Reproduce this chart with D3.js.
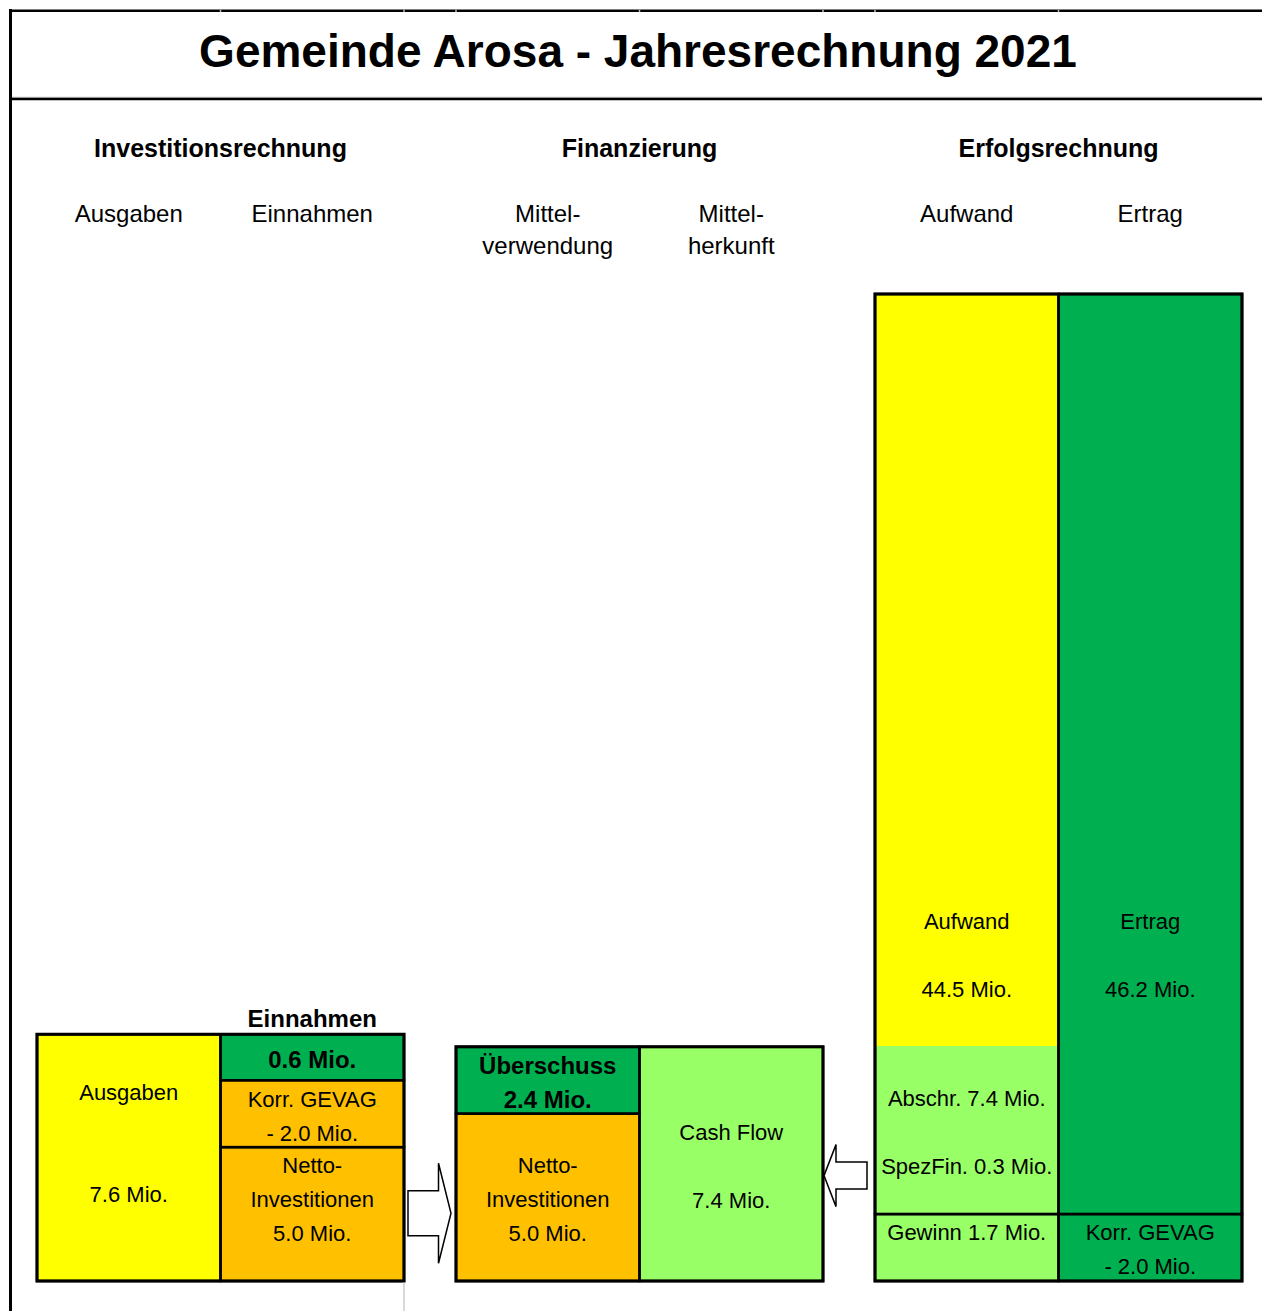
<!DOCTYPE html>
<html>
<head>
<meta charset="utf-8">
<script src="https://cdn.jsdelivr.net/npm/d3@7/dist/d3.min.js"></script>
<style>
  html, body { margin: 0; padding: 0; background: #fff; }
  svg { display: block; font-family: "Liberation Sans", Arial, sans-serif; }
</style>
</head>
<body>
<svg id="chart" width="1262" height="1311"></svg>
<script>
// ---------- data ----------
const title = "Gemeinde Arosa - Jahresrechnung 2021";
const groups = ["Investitionsrechnung", "Finanzierung", "Erfolgsrechnung"];
const columns = ["Ausgaben", "Einnahmen", "Mittelverwendung", "Mittelherkunft", "Aufwand", "Ertrag"];
const columnGroup = [0, 0, 1, 1, 2, 2];
const columnHeaders = [["Ausgaben"], ["Einnahmen"], ["Mittel-", "verwendung"], ["Mittel-", "herkunft"], ["Aufwand"], ["Ertrag"]];

// stacked segments, bottom to top, in chart units (the original uses a broken scale)
const segColumn = [0, 1, 1, 1, 2, 2, 3, 4, 4, 4, 4, 5, 5, 5];
const segValue  = [14.75, 8.0, 4.0, 2.75, 10.0, 4.0, 14.0, 4.0, 10.1, 11.0, 33.9, 4.0, 31.2, 23.8];
const segKind   = ["ausgaben", "netto", "korr", "einnahmen", "netto", "ueberschuss", "cashflow",
                   "gewinn", "abschr", "aufwand", "aufwand", "korrErtrag", "ertrag", "ertrag"];
const segJoinBelow = [false, false, false, false, false, false, false, false, false, true, true, false, false, true];
const segLabel = [
  ["Ausgaben", "", "", "7.6 Mio.", ""],
  ["Netto-", "Investitionen", "5.0 Mio.", ""],
  ["Korr. GEVAG", "- 2.0 Mio."],
  ["0.6 Mio."],
  ["Netto-", "Investitionen", "5.0 Mio."],
  ["Überschuss", "2.4 Mio."],
  ["Cash Flow", "", "7.4 Mio."],
  ["Gewinn 1.7 Mio.", ""],
  ["Abschr. 7.4 Mio.", "", "SpezFin. 0.3 Mio."],
  ["Aufwand", "", "44.5 Mio."],
  [],
  ["Korr. GEVAG", "- 2.0 Mio."],
  ["Ertrag", "", "46.2 Mio."],
  []
];
const einnahmenTitle = "Einnahmen";
const yMax = 59;

// ---------- styles ----------
const kindColor = {
  ausgaben: "#FFFF00", aufwand: "#FFFF00",
  netto: "#FFC000", korr: "#FFC000",
  einnahmen: "#00B050", ueberschuss: "#00B050", ertrag: "#00B050", korrErtrag: "#00B050",
  cashflow: "#99FF66", abschr: "#99FF66", gewinn: "#99FF66"
};
const boldKinds = new Set(["einnahmen", "ueberschuss"]);

// ---------- layout ----------
const svg = d3.select("#chart");
const W = 1262, H = 1311;
const plotLeft = 37, plotRight = 1242, baseY = 1281, topY = 294;

const xGroup = d3.scaleBand().domain(d3.range(groups.length)).range([plotLeft, plotRight]).paddingInner(52 / 419).paddingOuter(0);
const xInner = d3.scaleBand().domain([0, 1]).range([0, xGroup.bandwidth()]).padding(0);
const colX = i => xGroup(columnGroup[i]) + xInner(i % 2);
const colW = xInner.bandwidth();
const y = d3.scaleLinear().domain([0, yMax]).range([baseY, topY]);

// stack segments
const segs = [];
const cum = columns.map(() => 0);
segValue.forEach((v, i) => {
  const c = segColumn[i];
  segs.push({ i, c, y0: cum[c], y1: cum[c] + v, kind: segKind[i], label: segLabel[i], join: segJoinBelow[i] });
  cum[c] += v;
});

// frame
svg.append("line").attr("x1", 10.5).attr("x2", 10.5).attr("y1", 9).attr("y2", H).attr("stroke", "#000").attr("stroke-width", 3);
svg.append("line").attr("x1", 9).attr("x2", W).attr("y1", 10.8).attr("y2", 10.8).attr("stroke", "#000").attr("stroke-width", 2.5);
const edges = [];
columns.forEach((c, i) => { edges.push(colX(i)); });
edges.push(colX(1) + colW, colX(3) + colW);
edges.filter(e => e > 100).forEach(e => {
  svg.append("line").attr("x1", e).attr("x2", e).attr("y1", 9.5).attr("y2", 12.2).attr("stroke", "#bbb").attr("stroke-width", 1.5);
});
svg.append("line").attr("x1", 12).attr("x2", W).attr("y1", 97.3).attr("y2", 97.3).attr("stroke", "#bbb").attr("stroke-width", 1);
svg.append("line").attr("x1", 9).attr("x2", W).attr("y1", 99).attr("y2", 99).attr("stroke", "#000").attr("stroke-width", 2.5);

// title
svg.append("text").attr("x", 638).attr("y", 67).attr("text-anchor", "middle")
  .attr("font-size", 46).attr("font-weight", "bold").text(title);

// group headers
svg.selectAll(".grp").data(groups).join("text")
  .attr("x", (d, i) => xGroup(i) + xGroup.bandwidth() / 2)
  .attr("y", 157).attr("text-anchor", "middle")
  .attr("font-size", 25).attr("font-weight", "bold").text(d => d);

// column headers
columnHeaders.forEach((lines, i) => {
  lines.forEach((t, k) => {
    svg.append("text").attr("x", colX(i) + colW / 2).attr("y", 222 + k * 32)
      .attr("text-anchor", "middle").attr("font-size", 24).text(t);
  });
});

// segment fills
svg.selectAll(".seg").data(segs).join("rect")
  .attr("x", d => colX(d.c)).attr("width", colW)
  .attr("y", d => y(d.y1) - (d.join ? 0.5 : 0)).attr("height", d => y(d.y0) - y(d.y1) + (d.join ? 1 : 0))
  .attr("fill", d => kindColor[d.kind]).attr("shape-rendering", "crispEdges");

// cell outlines (merge segments joined to the one below)
const cells = [];
segs.forEach(s => {
  const last = cells.length ? cells[cells.length - 1] : null;
  if (s.join && last && last.c === s.c) { last.y1 = s.y1; }
  else cells.push({ c: s.c, y0: s.y0, y1: s.y1 });
});
svg.selectAll(".cell").data(cells).join("rect")
  .attr("x", d => colX(d.c)).attr("width", colW)
  .attr("y", d => y(d.y1)).attr("height", d => y(d.y0) - y(d.y1))
  .attr("fill", "none").attr("stroke", "#000").attr("stroke-width", 2.5);

// pair outlines
groups.forEach((g, gi) => {
  const cs = columns.map((c, i) => i).filter(i => columnGroup[i] === gi);
  const top = d3.max(cs, i => cum[i]);
  svg.append("rect").attr("x", xGroup(gi)).attr("width", xGroup.bandwidth())
    .attr("y", y(top)).attr("height", y(0) - y(top))
    .attr("fill", "none").attr("stroke", "#000").attr("stroke-width", 3);
});

// segment labels
const LH = 34;
segs.forEach(s => {
  const n = s.label.length;
  if (!n) return;
  const cy = (y(s.y0) + y(s.y1)) / 2;
  const bold = boldKinds.has(s.kind);
  const fs = bold ? 24 : 22;
  s.label.forEach((t, k) => {
    if (!t) return;
    svg.append("text").attr("x", colX(s.c) + colW / 2)
      .attr("y", cy + (k - (n - 1) / 2) * LH + fs * 0.36 + 2)
      .attr("text-anchor", "middle").attr("font-size", fs)
      .attr("font-weight", bold ? "bold" : "normal").text(t);
  });
});

// "Einnahmen" heading above column 2
svg.append("text").attr("x", colX(1) + colW / 2).attr("y", y(cum[1]) - 7)
  .attr("text-anchor", "middle").attr("font-size", 24).attr("font-weight", "bold").text(einnahmenTitle);

// thin gray line under column 2
svg.append("line").attr("x1", colX(1) + colW).attr("x2", colX(1) + colW)
  .attr("y1", baseY + 1.5).attr("y2", H).attr("stroke", "#ccc").attr("stroke-width", 1.5);

// arrows
function arrowRight(x0, x1, cy, shaftH, headH, headL) {
  const xb = x1 - headL;
  return `M${x0},${cy - shaftH / 2}L${xb},${cy - shaftH / 2}L${xb},${cy - headH / 2}L${x1},${cy}` +
         `L${xb},${cy + headH / 2}L${xb},${cy + shaftH / 2}L${x0},${cy + shaftH / 2}Z`;
}
function arrowLeft(x0, x1, cy, shaftH, headH, headL) {
  const xb = x0 + headL;
  return `M${x1},${cy - shaftH / 2}L${xb},${cy - shaftH / 2}L${xb},${cy - headH / 2}L${x0},${cy}` +
         `L${xb},${cy + headH / 2}L${xb},${cy + shaftH / 2}L${x1},${cy + shaftH / 2}Z`;
}
const rx0 = colX(1) + colW + 4, rx1 = colX(2) - 5;
svg.append("path").attr("d", arrowRight(rx0, rx1, y(4.05), 45, 100, 12.5))
  .attr("fill", "#fff").attr("stroke", "#000").attr("stroke-width", 1.5).attr("stroke-linejoin", "miter");
const lx0 = colX(3) + colW + 1, lx1 = colX(4) - 8;
svg.append("path").attr("d", arrowLeft(lx0, lx1, y(6.3), 27, 62, 12))
  .attr("fill", "#fff").attr("stroke", "#000").attr("stroke-width", 1.5).attr("stroke-linejoin", "miter");
</script>
</body>
</html>
